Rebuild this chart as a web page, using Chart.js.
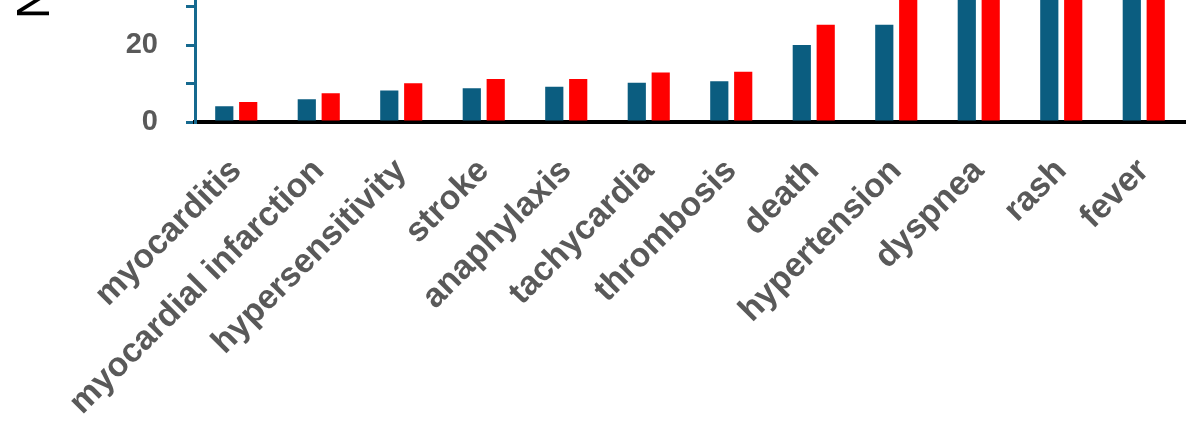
<!DOCTYPE html>
<html>
<head>
<meta charset="utf-8">
<script src="https://cdn.jsdelivr.net/npm/chart.js@4"></script>
<style>
  html, body { margin:0; padding:0; background:#fff; overflow:hidden; }
  #wrap { position:absolute; left:0; top:-500px; width:1200px; height:923px; }
</style>
</head>
<body>
<div id="wrap"><canvas id="myChart" width="1200" height="923"></canvas></div>
<script>
// categories + two series (bars above ~31 are cut off in the picture, so those are guesses)
var labels = ['myocarditis','myocardial infarction','hypersensitivity','stroke','anaphylaxis',
              'tachycardia','thrombosis','death','hypertension','dyspnea','rash','fever']
var blue_y = [4.1, 5.9, 8.2, 8.8, 9.2, 10.2, 10.6, 20.0, 25.3, 42, 58, 96]
var red_y  = [5.2, 7.5, 10.1, 11.2, 11.2, 12.9, 13.1, 25.3, 34, 50, 72, 128]
var y_title = 'Number of reports'

var axisTeal = '#16698f'
var labelGrey = '#595959'

var ctx = document.getElementById('myChart').getContext('2d')
var chart1 = new Chart(ctx, {
    type:'bar',
    data:{
        labels: labels,
        datasets:[{
            label:'series 1',
            data: blue_y,
            backgroundColor:'#0b5d80',
            categoryPercentage:0.58,
            barPercentage:0.76
        },{
            label:'series 2',
            data: red_y,
            backgroundColor:'#ff0000',
            categoryPercentage:0.58,
            barPercentage:0.76
        }]
    },
    options:{
        responsive:false,
        animation:false,
        layout:{ padding:{ left:0, right:15, top:0, bottom:0 } },
        plugins:{
            legend:{ display:false },
            tooltip:{ enabled:false }
        },
        scales:{
            x:{
                grid:{ display:false },
                border:{ display:true, color:'#000', width:4 },
                ticks:{
                    color: labelGrey,
                    font:{ family:'"Liberation Sans", Arial, sans-serif', size:34, weight:'bold' },
                    minRotation:45,
                    maxRotation:45,
                    autoSkip:false,
                    padding:21
                },
                afterFit:function(s){ s.height = 301 }
            },
            y:{
                min:0,
                max:150,
                grid:{
                    display:true,
                    drawOnChartArea:false,
                    drawTicks:true,
                    tickLength:9,
                    color: axisTeal,
                    lineWidth:3
                },
                border:{ display:true, color: axisTeal, width:3 },
                ticks:{
                    stepSize:10,
                    color: labelGrey,
                    font:{ family:'"Liberation Sans", Arial, sans-serif', size:29, weight:'bold' },
                    padding:28,
                    callback:function(v){ return v % 20 === 0 ? v : '' }
                },
                title:{
                    display:true,
                    text: y_title,
                    color:'#000',
                    font:{ family:'"Liberation Sans", Arial, sans-serif', size:46 },
                    padding:{ top:9, bottom:0 }
                },
                afterFit:function(s){ s.width = 195 }
            }
        }
    }
})
</script>
</body>
</html>
